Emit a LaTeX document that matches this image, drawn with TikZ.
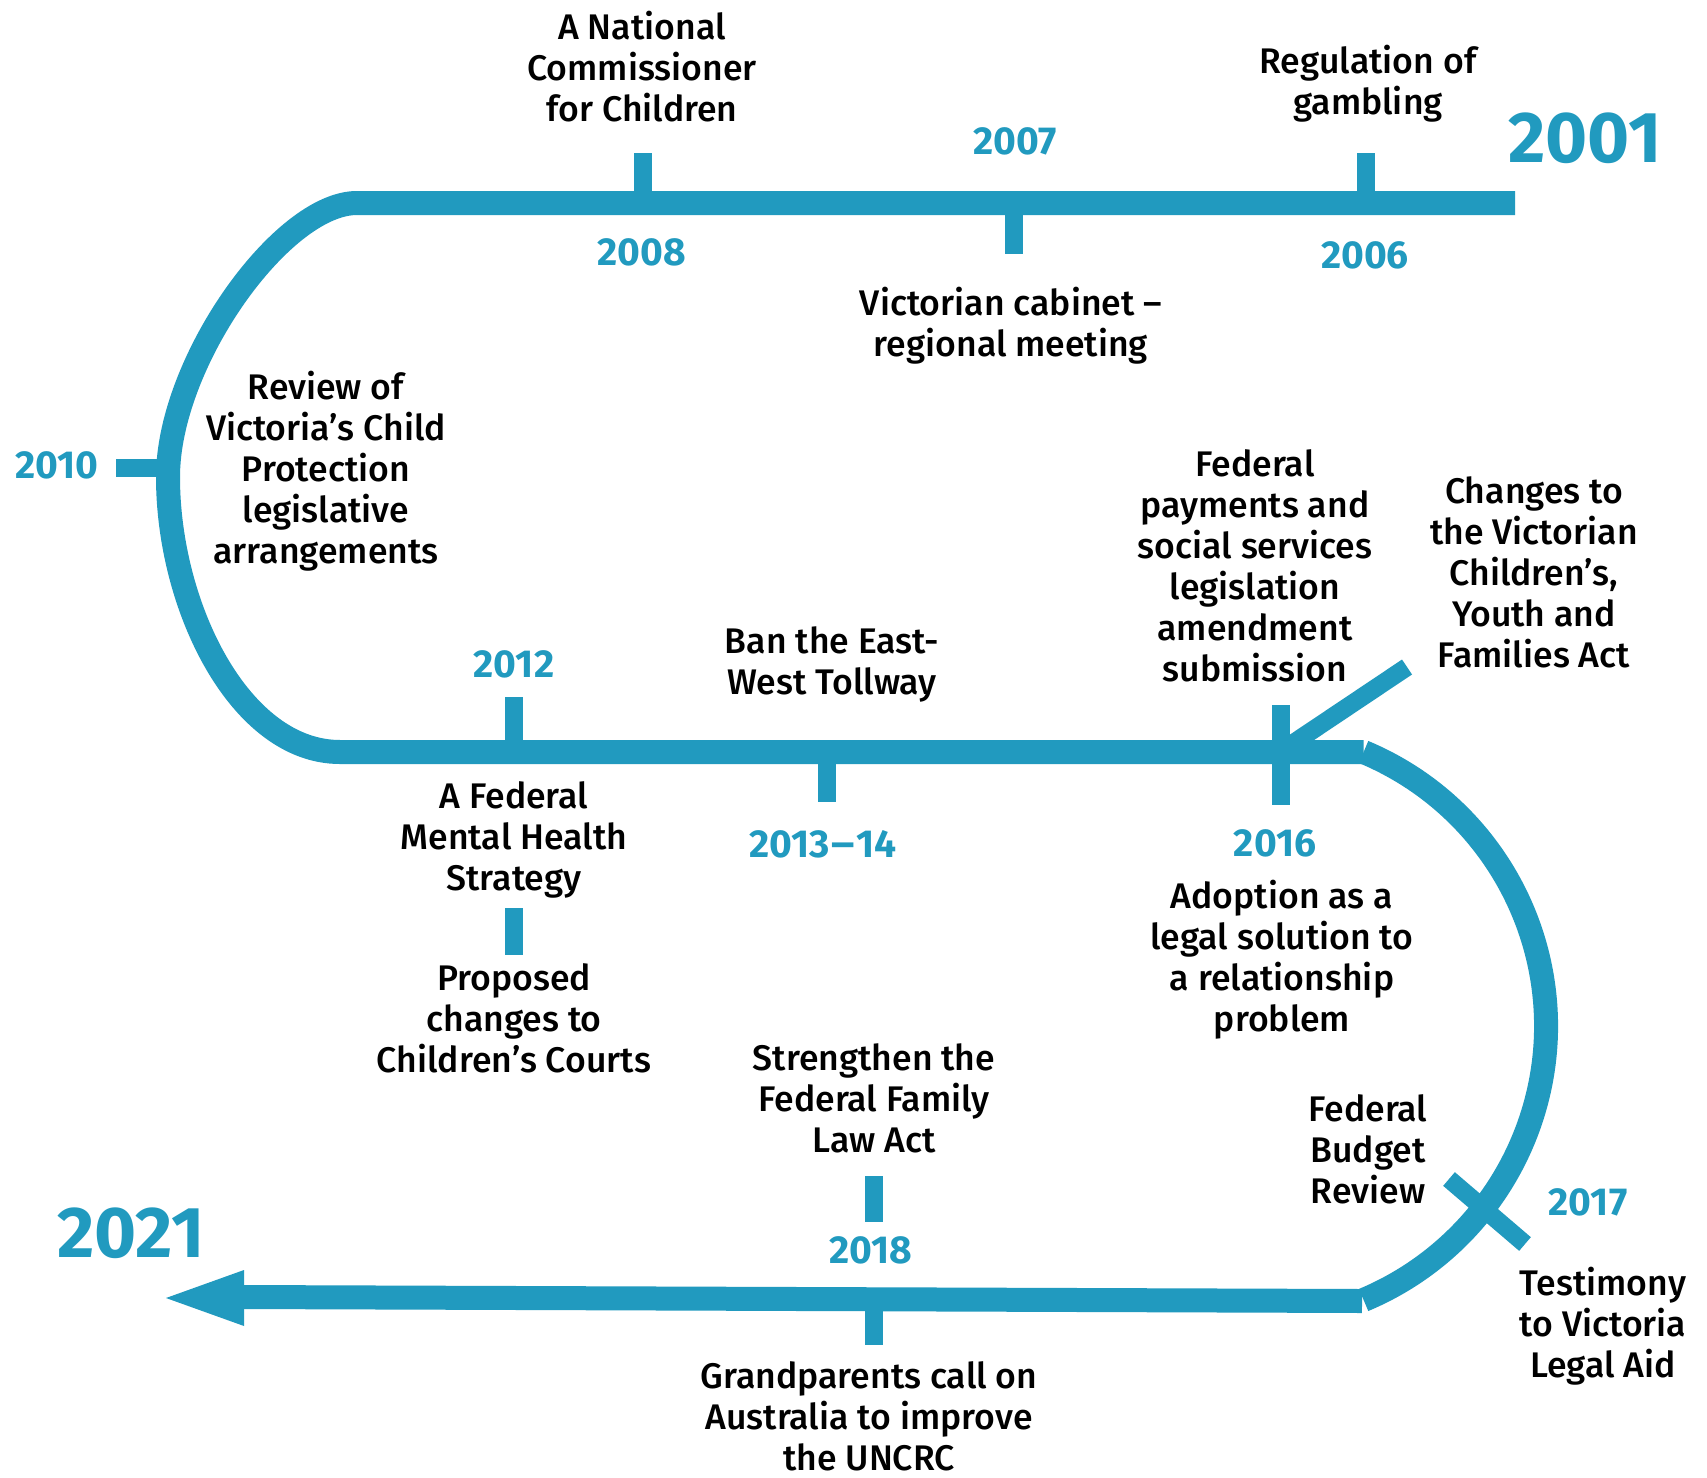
\documentclass[tikz,border=0pt]{standalone}
\usepackage{fontspec}
\setmainfont{Fira Sans Medium}[BoldFont=Fira Sans Bold]
\definecolor{teal1}{RGB}{33,154,191}
\tikzset{
  lbl/.style={font=\fontsize{17.8}{20.5}\selectfont, align=center, text=black, inner sep=0pt},
  yr/.style={font=\fontsize{19.5}{22}\selectfont\bfseries, text=teal1, inner sep=0pt},
  bigyr/.style={font=\fontsize{36}{40}\selectfont\bfseries, text=teal1, inner sep=0pt},
  tline/.style={line width=12pt, draw=teal1},
  tick/.style={line width=9pt, draw=teal1},
}
\begin{document}
\begin{tikzpicture}[x=0.5pt,y=-0.5pt]
\useasboundingbox[fill=white] (0,0) rectangle (1707,1477);
% main line
\coordinate (start) at (1515,203);
\coordinate (tl) at (357,203);
\coordinate (lm) at (168,477);
\coordinate (bl) at (340,752);
\coordinate (mr) at (1363.6,752);
\coordinate (br) at (1362,1301);
\coordinate (tip) at (166,1298);
\draw[tline] (start) -- (tl) .. controls (282,203) and (168,362) .. (lm)
  .. controls (168,607) and (240,752) .. (bl) -- (mr);
\draw[tline] (mr) arc[start angle=-67.3, end angle=67.3, radius=297];
\draw[tline] (br) -- (240,1297);
\fill[teal1] (tip) -- (244,1270) -- (244,1326) -- cycle;
% ticks
\coordinate (t10) at (170,468);
\draw[tick] (643,153) -- (643,203);
\draw[tick] (1366,153) -- (1366,203);
\draw[tick] (1014,203) -- (1014,254);
\draw[tick] (116,468) -- (t10);
\draw[tick] (514,697) -- (514,752);
\draw[tick] (827,752) -- (827,802);
\draw[tick] (514,908) -- (514,955);
\draw[tick] (1281,705) -- (1281,805);
\draw[tick] (1407,667) -- (1286,748);
\draw[tick] (874,1176) -- (874,1222);
\draw[tick] (874,1301) -- (874,1345);
\draw[tick] (1449,1179) -- (1525,1244);
% year labels
\node[yr] (y2008) at (642,252) {2008};
\node[yr] (y2007) at (1015,141) {2007};
\node[yr] (y2006) at (1365,255) {2006};
\node[bigyr] (y2001) at (1585,138) {2001};
\node[yr] (y2010) at (57,465) {2010};
\node[yr] (y2012) at (514,664) {2012};
\node[yr] (y2013) at (823,844) {2013\kern0.8pt\scalebox{1.15}[1]{–}\kern0.8pt14};
\node[yr] (y2016) at (1275,843) {2016};
\node[yr] (y2018) at (871,1250) {2018};
\node[yr] (y2017) at (1588,1202) {2017};
\node[bigyr] (y2021) at (131,1233) {2021};
% event labels
\node[lbl] (e1) at (642,67) {A National\\Commissioner\\for Children};
\node[lbl] (e2) at (1011,326) {Victorian cabinet –\\regional meeting};
\node[lbl] (e3) at (1368,84) {Regulation of\\gambling};
\node[lbl] (e4) at (326,471) {Review of\\Victoria’s Child\\Protection\\legislative\\arrangements};
\node[lbl] (e5) at (832,664) {Ban the East-\\West Tollway};
\node[lbl] (e6) at (1255,566) {Federal\\payments and\\social services\\legislation\\amendment\\submission};
\node[lbl] (e7) at (1534,572) {Changes to\\the Victorian\\Children’s,\\Youth and\\Families Act};
\node[lbl] (e8) at (514,840) {A Federal\\Mental Health\\Strategy};
\node[lbl] (e9) at (1282,960) {Adoption as a\\legal solution to\\a relationship\\problem};
\node[lbl] (e10) at (514,1018) {Proposed\\changes to\\Children’s Courts};
\node[lbl] (e11) at (874,1098) {Strengthen the\\Federal Family\\Law Act};
\node[lbl] (e12) at (869,1416) {Grandparents call on\\Australia to improve\\the UNCRC};
\node[lbl] (e13) at (1368,1149) {Federal\\Budget\\Review};
\node[lbl] (e14) at (1603,1326) {Testimony\\to Victoria\\Legal Aid};
\end{tikzpicture}
\end{document}
